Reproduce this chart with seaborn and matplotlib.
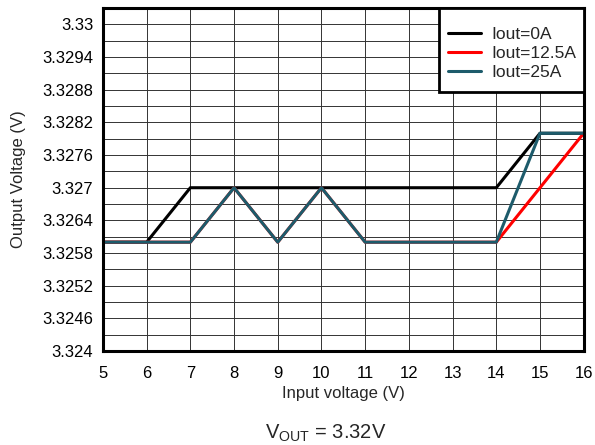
import numpy as np
import pandas as pd
import matplotlib
matplotlib.use("Agg")
import matplotlib.pyplot as plt
from matplotlib.patches import Rectangle
from matplotlib.ticker import MultipleLocator
import seaborn as sns

## data
vin = [5, 6, 7, 8, 9, 10, 11, 12, 13, 14, 15, 16]
vout_0a = [3.326, 3.326, 3.327, 3.327, 3.327, 3.327, 3.327, 3.327, 3.327, 3.327, 3.328, 3.328]
vout_12a5 = [3.326, 3.326, 3.326, 3.327, 3.326, 3.327, 3.326, 3.326, 3.326, 3.326, 3.327, 3.328]
vout_25a = [3.326, 3.326, 3.326, 3.327, 3.326, 3.327, 3.326, 3.326, 3.326, 3.326, 3.328, 3.328]
series = ["Iout=0A", "Iout=12.5A", "Iout=25A"]
colors = ["black", "#ff0000", "#1d5b6b"]

xticks = list(range(5, 17))
yticks = [3.324, 3.3246, 3.3252, 3.3258, 3.3264, 3.327, 3.3276, 3.3282, 3.3288, 3.3294, 3.33]
ytick_labels = ["3.324", "3.3246", "3.3252", "3.3258", "3.3264", "3.327",
                "3.3276", "3.3282", "3.3288", "3.3294", "3.33"]

df = pd.DataFrame({
    "vin": vin * 3,
    "vout": vout_0a + vout_12a5 + vout_25a,
    "series": [s for s in series for _ in vin],
})

## style
sns.set_theme(style="white")
plt.rcParams["font.family"] = ["Liberation Sans", "DejaVu Sans"]
plt.rcParams["mathtext.fontset"] = "custom"
plt.rcParams["mathtext.rm"] = "Liberation Sans"
plt.rcParams["mathtext.it"] = "Liberation Sans"

fig = plt.figure(figsize=(5.95, 4.45), dpi=100)
ax = fig.add_axes([0.173, 0.211, 0.808, 0.771])

sns.lineplot(data=df, x="vin", y="vout", hue="series", hue_order=series,
             palette=colors, linewidth=2.2, ax=ax, sort=False, estimator=None)

ax.set_xlim(5, 16)
ax.set_ylim(3.324, 3.3303)
ax.set_xticks(xticks)
ax.set_yticks(yticks)
ax.set_yticklabels(ytick_labels)
ax.yaxis.set_minor_locator(MultipleLocator(0.0003))
ax.grid(True, which="major", axis="x", color="0.2", linewidth=0.7)
ax.grid(True, which="both", axis="y", color="0.2", linewidth=0.7)
ax.set_axisbelow(True)
ax.tick_params(axis="both", which="both", length=0, labelsize=12, colors="black")
ax.tick_params(axis="x", pad=11)
ax.tick_params(axis="y", pad=7)

for sp in ax.spines.values():
    sp.set_color("black")
    sp.set_linewidth(2.2)

ax.set_xlabel("Input voltage (V)", fontsize=12, labelpad=3)
ax.set_ylabel("Output Voltage (V)", fontsize=12, labelpad=12)

## legend: box drawn separately so the padding can differ top/side
ax.add_patch(Rectangle((0.70, 0.755), 0.30, 0.245, transform=ax.transAxes,
                       facecolor="white", edgecolor="black", linewidth=2,
                       zorder=4, clip_on=False))
leg = ax.legend(title=None, loc="upper left", bbox_to_anchor=(0.717, 0.944),
                fontsize=12.5, frameon=False, borderaxespad=0, borderpad=0,
                handlelength=1.95, labelspacing=0.22, handletextpad=0.55)
leg.set_zorder(5)

fig.text(0.547, 0.014, r"V$_{\mathrm{OUT}}$ = 3.32V", ha="center", va="baseline", fontsize=14.5)

fig.savefig("out.png", dpi=100)
